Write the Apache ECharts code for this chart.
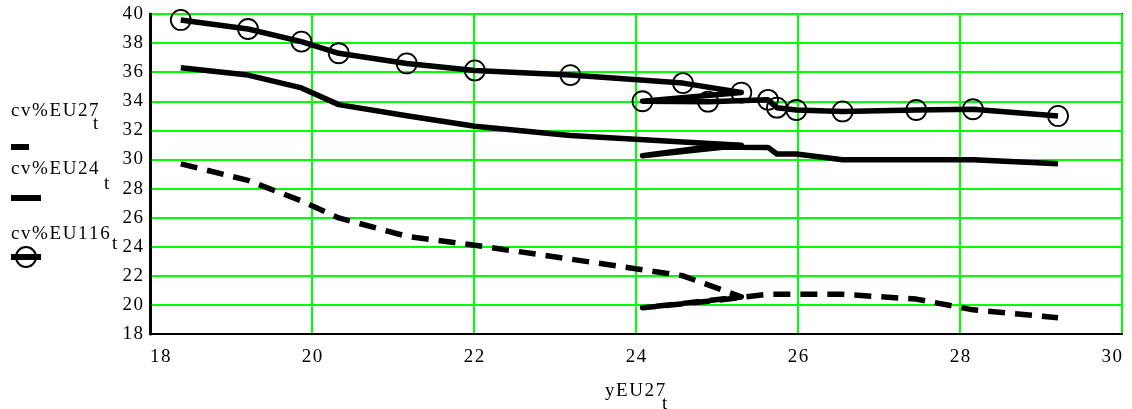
<!DOCTYPE html>
<html>
<head>
<meta charset="utf-8">
<script src="https://cdn.jsdelivr.net/npm/echarts@6/dist/echarts.min.js"></script>
<style>
html,body{margin:0;padding:0;background:#fff;}
#chart{width:1132px;height:409px;}
</style>
</head>
<body>
<div id="chart"></div>
<script>
// x values (yEU27_t)
const xValues = [18.38, 19.21, 19.87, 20.33, 21.17, 22.01, 23.19, 24.58, 25.30, 24.08, 24.89, 25.63, 25.74, 25.98, 26.55, 27.46, 28.16, 29.21];
// cv%EU27_t (dashed)
const cvEU27 = [29.70, 28.56, 27.15, 25.98, 24.72, 24.10, 23.15, 22.00, 20.55, 19.80, 20.25, 20.73, 20.73, 20.73, 20.73, 20.40, 19.66, 19.12];
// cv%EU24_t (solid)
const cvEU24 = [36.30, 35.80, 34.92, 33.77, 33.00, 32.28, 31.65, 31.20, 30.97, 30.25, 30.85, 30.83, 30.37, 30.37, 29.98, 29.98, 29.98, 29.70];
// cv%EU116_t (solid with circles)
const cvEU116 = [39.59, 38.97, 38.10, 37.30, 36.60, 36.12, 35.80, 35.25, 34.60, 34.00, 33.97, 34.10, 33.56, 33.40, 33.30, 33.40, 33.45, 32.99];

const xTicks = {min: 18, max: 30, interval: 2};
const yTicks = {min: 18, max: 40, interval: 2};

const FONT = 'Liberation Serif';
const SP = '\u200A';
const spaced = s => String(s).split('').join(SP);
const pair = ys => xValues.map((x, i) => [x, ys[i]]);
const tfont = '19px "Liberation Serif"';

const chart = echarts.init(document.getElementById('chart'), null, {renderer: 'canvas'});
chart.setOption({
  animation: false,
  backgroundColor: '#fff',
  grid: {left: 150, right: 10, top: 14, bottom: 75, show: true, borderColor: '#1a1a1a', borderWidth: 2, containLabel: false},
  xAxis: {
    type: 'value', min: xTicks.min, max: xTicks.max, interval: xTicks.interval,
    axisLine: {show: true, onZero: false, lineStyle: {color: '#000', width: 2}},
    axisTick: {show: false},
    splitLine: {show: true, lineStyle: {color: '#00ff00', width: 2}},
    axisLabel: {color: '#000', fontFamily: FONT, fontSize: 19, margin: 14, alignMinLabel: 'left', alignMaxLabel: 'right', formatter: v => spaced(v)}
  },
  yAxis: {
    type: 'value', min: yTicks.min, max: yTicks.max, interval: yTicks.interval,
    axisLine: {show: true, onZero: false, lineStyle: {color: '#000', width: 3}},
    axisTick: {show: false},
    splitLine: {show: true, lineStyle: {color: '#00ff00', width: 2}},
    axisLabel: {color: '#000', fontFamily: FONT, fontSize: 19, margin: 7, padding: [8, 0, 0, 0], formatter: v => spaced(v)}
  },
  series: [
    {
      name: 'cv%EU27', type: 'line', data: pair(cvEU27), symbol: 'none', showSymbol: false,
      lineStyle: {color: '#000', width: 5.5, type: [17, 10], cap: 'butt', join: 'round'}, z: 3
    },
    {
      name: 'cv%EU24', type: 'line', data: pair(cvEU24), symbol: 'none', showSymbol: false,
      lineStyle: {color: '#000', width: 5.5, cap: 'butt', join: 'round'}, z: 3
    },
    {
      name: 'cv%EU116', type: 'line', data: pair(cvEU116), symbol: 'circle', symbolSize: 20, showSymbol: true,
      itemStyle: {color: 'rgba(0,0,0,0)', borderColor: '#000', borderWidth: 1.8},
      lineStyle: {color: '#000', width: 5.5, cap: 'butt', join: 'round'}, z: 3
    }
  ],
  graphic: [
    {type: 'text', left: 11, top: 102, style: {text: spaced('cv%EU27'), font: tfont, fill: '#000'}},
    {type: 'text', left: 93, top: 115, style: {text: 't', font: tfont, fill: '#000'}},
    {type: 'rect', shape: {x: 11, y: 144, width: 18, height: 6}, style: {fill: '#000'}},

    {type: 'text', left: 11, top: 160, style: {text: spaced('cv%EU24'), font: tfont, fill: '#000'}},
    {type: 'text', left: 104, top: 175, style: {text: 't', font: tfont, fill: '#000'}},
    {type: 'rect', shape: {x: 11, y: 195, width: 30, height: 6}, style: {fill: '#000'}},

    {type: 'text', left: 11, top: 225, style: {text: spaced('cv%EU116'), font: tfont, fill: '#000'}},
    {type: 'text', left: 112, top: 235, style: {text: 't', font: tfont, fill: '#000'}},
    {type: 'rect', shape: {x: 11, y: 254, width: 30, height: 6}, style: {fill: '#000'}},
    {type: 'circle', shape: {cx: 26, cy: 257, r: 10}, style: {fill: 'none', stroke: '#000', lineWidth: 2}},

    {type: 'text', left: 605, top: 382, style: {text: spaced('yEU27'), font: tfont, fill: '#000'}},
    {type: 'text', left: 662, top: 395, style: {text: 't', font: tfont, fill: '#000'}}
  ]
});
</script>
</body>
</html>
